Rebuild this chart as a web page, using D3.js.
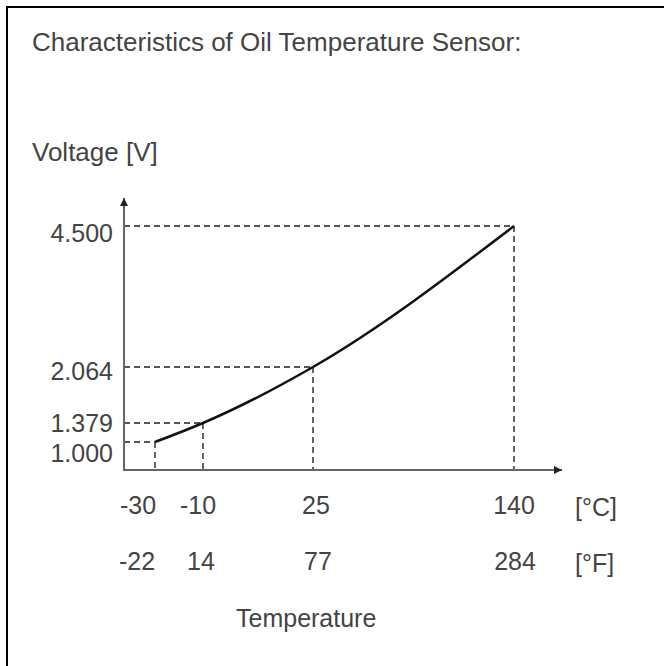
<!DOCTYPE html>
<html>
<head>
<meta charset="utf-8">
<script src="https://cdn.jsdelivr.net/npm/d3@7"></script>
<style>
  body { margin: 0; background: #fff; }
  svg text { font-family: "Liberation Sans", Arial, sans-serif; fill: #444; }
</style>
</head>
<body>
<svg id="chart" width="664" height="666"></svg>
<script>
// sensor characteristic points
const tempC = [-30, -10, 25, 140];
const tempF = [-22, 14, 77, 284];
const voltage = [1.000, 1.379, 2.064, 4.500];
const voltLabels = ['1.000', '1.379', '2.064', '4.500'];

const svgW = 664;
const svgH = 666;
const svg = d3.select('#chart');

// schematic axes: the drawing is not to scale, so map each marked value to its spot
const x = d3.scaleLinear().domain(tempC).range([155, 203, 313, 514]);
const y = d3.scaleLinear().domain(voltage).range([442, 423, 367, 226]);

const axisX = 124;   // y axis position
const axisY = 470;   // x axis position

// frame (only top and left edges show in the picture)
svg.append('path')
  .attr('d', `M7,${svgH} V7 H${svgW}`)
  .style('fill', 'none')
  .style('stroke', '#000')
  .style('stroke-width', 2);

svg.append('text')
  .attr('x', 32).attr('y', 51)
  .style('font-size', '26px')
  .text('Characteristics of Oil Temperature Sensor:');

svg.append('text')
  .attr('x', 32).attr('y', 161)
  .style('font-size', '26px')
  .text('Voltage [V]');

// dashed guides
const guides = svg.append('g')
  .style('stroke', '#555')
  .style('stroke-width', 1.8)
  .style('stroke-dasharray', '6,4')
  .style('fill', 'none');

tempC.forEach((t, i) => {
  guides.append('line')
    .attr('x1', axisX).attr('x2', x(t))
    .attr('y1', y(voltage[i])).attr('y2', y(voltage[i]));
  guides.append('line')
    .attr('x1', x(t)).attr('x2', x(t))
    .attr('y1', y(voltage[i])).attr('y2', axisY);
});

// axes with arrows
svg.append('defs').append('marker')
  .attr('id', 'arrow')
  .attr('viewBox', '0 0 10 10')
  .attr('refX', 10).attr('refY', 5)
  .attr('markerUnits', 'userSpaceOnUse')
  .attr('markerWidth', 14).attr('markerHeight', 8)
  .attr('orient', 'auto')
  .append('path')
  .attr('d', 'M0,0 L10,5 L0,10 Z')
  .style('fill', '#222');

svg.append('path')
  .attr('d', `M${axisX},${axisY} V198`)
  .style('stroke', '#666').style('stroke-width', 2)
  .attr('marker-end', 'url(#arrow)');

svg.append('path')
  .attr('d', `M${axisX - 1},${axisY} H562`)
  .style('stroke', '#666').style('stroke-width', 2)
  .attr('marker-end', 'url(#arrow)');

// curve
const line = d3.line()
  .x(d => x(d[0]))
  .y(d => y(d[1]))
  .curve(d3.curveMonotoneX);

svg.append('path')
  .datum(tempC.map((t, i) => [t, voltage[i]]))
  .attr('d', line)
  .style('fill', 'none')
  .style('stroke', '#111')
  .style('stroke-width', 2.5);

// voltage labels, nudged apart where they crowd
const voltDy = [20, 9, 13, 16];
svg.append('g')
  .selectAll('text')
  .data(voltLabels)
  .enter().append('text')
  .attr('x', 113)
  .attr('y', (d, i) => y(voltage[i]) + voltDy[i])
  .style('text-anchor', 'end')
  .style('font-size', '25px')
  .text(d => d);

// temperature labels
const cDx = [-17, -5, 3, 0];
const fDx = [-18, -2, 5, 1];
svg.append('g')
  .selectAll('text')
  .data(tempC)
  .enter().append('text')
  .attr('x', (d, i) => x(d) + cDx[i])
  .attr('y', 514)
  .style('text-anchor', 'middle')
  .style('font-size', '25px')
  .text(d => d);

svg.append('g')
  .selectAll('text')
  .data(tempF)
  .enter().append('text')
  .attr('x', (d, i) => x(tempC[i]) + fDx[i])
  .attr('y', 570)
  .style('text-anchor', 'middle')
  .style('font-size', '25px')
  .text(d => d);

svg.append('text')
  .attr('x', 575).attr('y', 516)
  .style('font-size', '25px')
  .text('[°C]');

svg.append('text')
  .attr('x', 575).attr('y', 572)
  .style('font-size', '25px')
  .text('[°F]');

svg.append('text')
  .attr('x', 236).attr('y', 627)
  .style('font-size', '25px')
  .text('Temperature');
</script>
</body>
</html>
